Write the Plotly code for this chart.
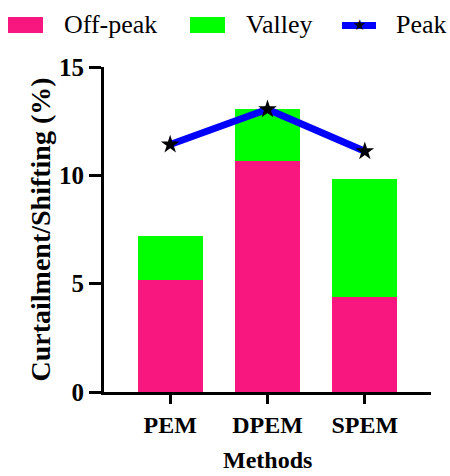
import plotly.graph_objects as go

methods = ["PEM", "DPEM", "SPEM"]
off_peak = [5.15, 10.66, 4.37]
valley = [2.03, 2.39, 5.45]
peak = [11.42, 13.05, 11.11]
y_ticks = [0, 5, 10, 15]

PINK = "#F7177F"
GREEN = "#00FF00"
BLUE = "#0000FF"
FONT = "Liberation Serif"

fig = go.Figure()
fig.add_bar(x=methods, y=off_peak, name="Off-peak", marker=dict(color=PINK, line=dict(width=0)), width=0.667, showlegend=False)
fig.add_bar(x=methods, y=valley, name="Valley", marker=dict(color=GREEN, line=dict(width=0)), width=0.667, showlegend=False)
fig.add_scatter(x=methods, y=peak, name="Peak", mode="lines+markers",
                line=dict(color=BLUE, width=7),
                marker=dict(symbol="star", size=14, color="black", line=dict(width=0)),
                showlegend=False)

# plot area geometry (pixels) used for the hand-drawn legend
L, R, T, B = 104, 431, 67, 392
W, H = R - L, B - T
px = lambda x: (x - L) / W
py = lambda y: (B - y) / H

shapes = [
    dict(type="rect", xref="paper", yref="paper", x0=px(8), x1=px(43), y0=py(33), y1=py(17),
         fillcolor=PINK, line=dict(width=0)),
    dict(type="rect", xref="paper", yref="paper", x0=px(190), x1=px(225), y0=py(33), y1=py(17),
         fillcolor=GREEN, line=dict(width=0)),
    dict(type="rect", xref="paper", yref="paper", x0=px(342), x1=px(376), y0=py(29), y1=py(22),
         fillcolor=BLUE, line=dict(width=0)),
]
legend_font = dict(family="Liberation Serif", size=26, color="black")
annotations = [
    dict(text="Off-peak", x=px(62), y=py(25), xref="paper", yref="paper", xanchor="left", yanchor="middle",
         showarrow=False, font=legend_font),
    dict(text="Valley", x=px(244), y=py(25), xref="paper", yref="paper", xanchor="left", yanchor="middle",
         showarrow=False, font=legend_font),
    dict(text="Peak", x=px(394), y=py(25), xref="paper", yref="paper", xanchor="left", yanchor="middle",
         showarrow=False, font=legend_font),
    dict(text="★", x=px(359), y=py(25), xref="paper", yref="paper", xanchor="center", yanchor="middle",
         showarrow=False, font=dict(family="DejaVu Sans", size=15, color="black")),
    # x-axis title
    dict(text="<b>Methods</b>", x=0.5, y=py(445), xref="paper", yref="paper", xanchor="center", yanchor="top",
         showarrow=False, font=dict(family=FONT, size=24, color="black")),
]

fig.update_layout(
    width=450, height=476,
    margin=dict(l=L, r=450 - R, t=T, b=476 - B, autoexpand=False),
    barmode="stack",
    plot_bgcolor="white", paper_bgcolor="white",
    font=dict(family=FONT, color="black"),
    shapes=shapes, annotations=annotations,
    xaxis=dict(
        range=[-0.68, 2.68], showline=True, linecolor="black", linewidth=3,
        tickvals=methods, ticktext=["<b>%s</b>" % m for m in methods],
        ticks="outside", ticklen=9, tickwidth=3, tickcolor="black", automargin=False,
        tickfont=dict(family=FONT, size=24, color="black"),
        showgrid=False, zeroline=False,
    ),
    yaxis=dict(
        range=[0, 15], tickvals=y_ticks, ticktext=["<b>%d</b>" % v for v in y_ticks],
        showline=True, linecolor="black", linewidth=3,
        ticks="outside", ticklen=12, tickwidth=3, tickcolor="black", automargin=False,
        tickfont=dict(family=FONT, size=25, color="black"),
        title=dict(text="<b>Curtailment/Shifting (%)</b>", font=dict(family=FONT, size=28, color="black"), standoff=1),
        showgrid=False, zeroline=False,
    ),
)

fig.write_html("out.html", config={"displayModeBar": False},
               post_script="document.body.style.margin='0';document.body.style.padding='0';")
